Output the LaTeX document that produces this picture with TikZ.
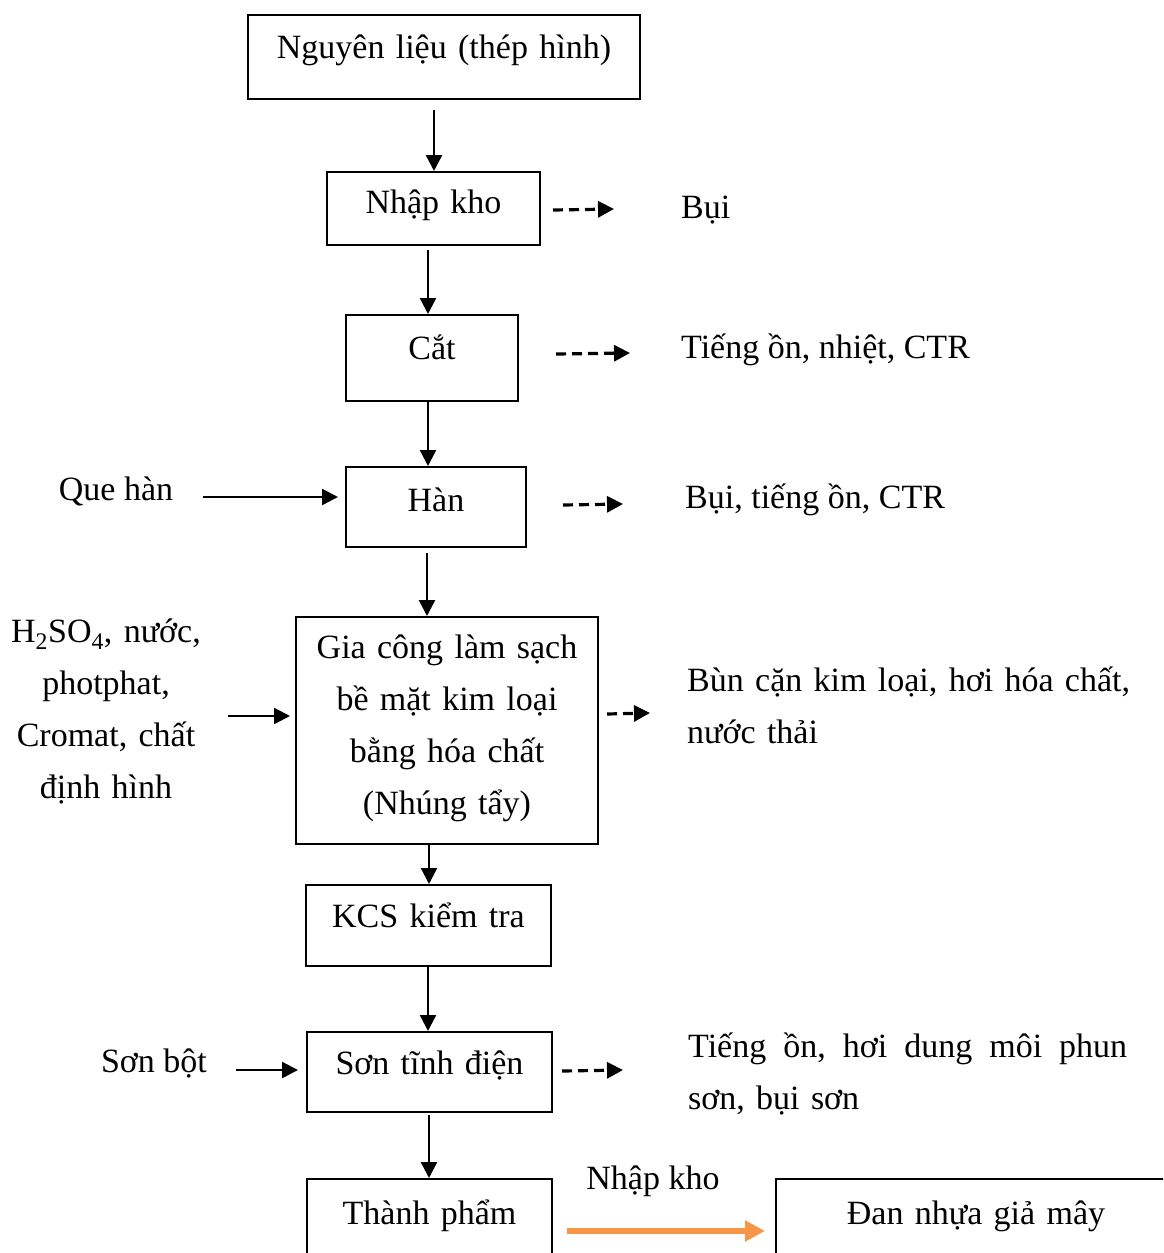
\documentclass[tikz,border=0pt]{standalone}
\usepackage{fontspec}
\setmainfont{Liberation Serif}
\usetikzlibrary{arrows.meta,calc}
\definecolor{orangeacc}{HTML}{F79646}
\begin{document}
\begin{tikzpicture}[x=1pt,y=-1pt,
  every node/.style={font=\fontsize{34}{52}\selectfont},
  box/.style={draw, line width=2pt, inner sep=0pt, align=center, anchor=north west},
  txt/.style={inner sep=0pt},
  arr/.style={line width=2.4pt, -{Triangle[length=16pt,width=16pt]}},
  darr/.style={line width=3.2pt, dash pattern=on 10pt off 6pt, -{Triangle[length=16pt,width=16pt]}},
  oarr/.style={line width=6pt, draw=orangeacc, -{Triangle[length=20pt,width=20pt]}}]
\useasboundingbox (0,0) rectangle (1163,1253);
\fill[white] (0,0) rectangle (1163,1253);
\clip (0,0) rectangle (1163,1253);

% process boxes
\node[box, text width=392pt, text height=43pt, text depth=41pt] (raw) at (247,14) {Nguyên liệu (thép hình)};
\node[box, text width=213pt, text height=41pt, text depth=32pt] (nhap) at (326,171) {Nhập kho};
\node[box, text width=172pt, text height=44pt, text depth=42pt] (cat) at (345,314) {Cắt};
\node[box, text width=180pt, text height=44pt, text depth=36pt] (han) at (345,466) {Hàn};
\node[box, text width=302pt, text height=41pt, text depth=186pt] (gia) at (295,616) {Gia công làm sạch\\bề mặt kim loại\\bằng hóa chất\\(Nhúng tẩy)};
\node[box, text width=245pt, text height=42pt, text depth=39pt] (kcs) at (305,884) {KCS kiểm tra};
\node[box, text width=245pt, text height=42pt, text depth=38pt] (son) at (306,1031) {Sơn tĩnh điện};
\node[box, text width=245pt, text height=45pt, text depth=60pt] (tp) at (306,1178) {Thành phẩm};
\node[box, text width=400pt, text height=45pt, text depth=60pt] (dan) at (775,1178) {Đan nhựa giả mây};

% side texts
\node[txt, anchor=base west] (bui) at (681,218) {Bụi};
\node[txt, anchor=base west] (o1) at (681,358) {Tiếng ồn, nhiệt, CTR};
\node[txt, anchor=base] (que) at (116,500) {Que hàn};
\node[txt, anchor=base west] (o2) at (685,508) {Bụi, tiếng ồn, CTR};
\node[txt, anchor=base, text width=210pt, align=center] (chem) at (106,642) {H\textsubscript{2}SO\textsubscript{4}, nước,\\photphat,\\Cromat, chất\\định hình};
\node[txt, anchor=base west, text width=450pt, align=left] (o3) at (687,691) {Bùn cặn kim loại, hơi hóa chất,\\nước thải};
\node[txt, anchor=base] (sbot) at (154,1072) {Sơn bột};
\node[txt, anchor=base west, text width=439pt, align=left] (o4) at (688,1057) {\hbox to 439pt{Tiếng\hfill ồn,\hfill hơi\hfill dung\hfill môi\hfill phun}\\sơn, bụi sơn};
\node[txt, anchor=base] (nk) at (653,1189) {Nhập kho};

% main flow
\draw[arr, shorten <=10pt] ([xshift=-10pt]raw.south) -- ([xshift=0.5pt]nhap.north);
\draw[arr, shorten <=4pt] ([xshift=-5.5pt]nhap.south) -- ([xshift=-4pt]cat.north);
\draw[arr] ([xshift=-4pt]cat.south) -- ([xshift=-8pt]han.north);
\draw[arr, shorten <=5pt] ([xshift=-9pt]han.south) -- ([xshift=-20pt]gia.north);
\draw[arr] ([xshift=-18pt]gia.south) -- ([xshift=0.5pt]kcs.north);
\draw[arr] ([xshift=-0.5pt]kcs.south) -- ([xshift=-1.5pt]son.north);
\draw[arr, shorten <=2pt] ([xshift=-0.5pt]son.south) -- ([xshift=-0.5pt]tp.north);

% inputs
\coordinate (qs) at (203,497);
\draw[arr, shorten >=7pt] (qs) -- (qs -| han.west);
\coordinate (cs) at (228,716);
\draw[arr, shorten >=5pt] (cs) -- (cs -| gia.west);
\coordinate (ss) at (236,1070);
\draw[arr, shorten >=8pt] (ss) -- (ss -| son.west);

% outputs (dashed)
\coordinate (e1) at (614,209);
\draw[darr] ([xshift=12pt,yshift=-1.5pt]nhap.east) -- (e1);
\coordinate (e2) at (630,353);
\draw[darr] ([xshift=37pt,yshift=4pt]cat.east) -- (e2);
\coordinate (e3) at (623,504);
\draw[darr] ([xshift=36pt,yshift=2pt]han.east) -- (e3);
\coordinate (e4) at (650,713);
\draw[darr] ([xshift=8pt,yshift=16.5pt]gia.east) -- (e4);
\coordinate (e5) at (623,1070);
\draw[darr] ([xshift=9pt,yshift=1pt]son.east) -- (e5);

% orange arrow
\coordinate (oa) at (567,1231);
\draw[oarr, shorten >=10pt] (oa) -- (oa -| dan.west);
\end{tikzpicture}
\end{document}
